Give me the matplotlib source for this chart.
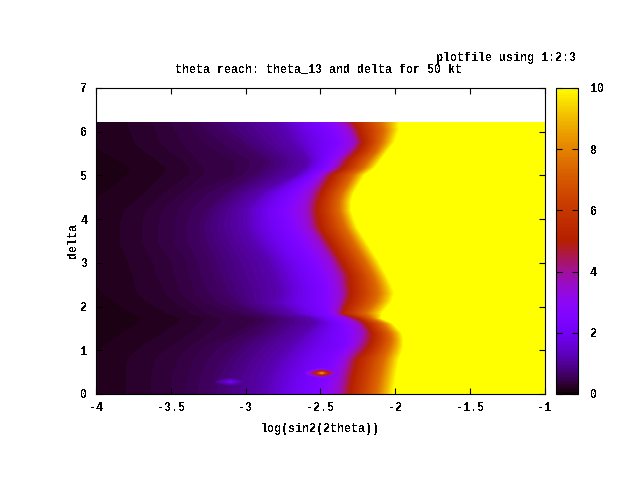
import numpy as np
import matplotlib
matplotlib.use("Agg")
import matplotlib.pyplot as plt
from matplotlib.colors import ListedColormap, Normalize
from matplotlib.cm import ScalarMappable

plt.rcParams.update({
    'font.family': ['Liberation Mono'], 'font.size': 8.4, 'font.weight': 'bold',
    'axes.unicode_minus': False, 'text.antialiased': False, 'axes.linewidth': 0.8,
    'axes.labelweight': 'bold', 'axes.titleweight': 'bold',
})

# values of the colour variable along which the positions below are read
levels_z = [0.156, 0.234, 0.3125, 0.39, 0.47, 0.62, 1.2, 2.5, 3.5, 5.0, 7.5, 10.0]
delta = [0, 0.4, 0.8, 0.95, 1.1, 1.25, 1.4, 1.62, 1.74, 1.85, 2.1, 2.3, 2.5, 2.7, 3.07,
         3.45, 3.82, 4.0, 4.2, 4.4, 4.6, 5.0, 5.17, 5.35, 5.54, 5.75, 6.04, 6.22]
# log(sin2(2theta)) at which each row reaches each value of levels_z
iso_x = [
    [-4.11, -3.80, -3.63, -3.50, -3.40, -3.24, -2.87, -2.52, -2.38, -2.30, -2.12, -2.01],
    [-4.11, -3.80, -3.63, -3.49, -3.38, -3.22, -2.85, -2.47, -2.36, -2.28, -2.10, -1.99],
    [-4.07, -3.79, -3.60, -3.45, -3.34, -3.16, -2.78, -2.41, -2.32, -2.25, -2.07, -1.97],
    [-4.00, -3.74, -3.55, -3.41, -3.30, -3.11, -2.74, -2.37, -2.29, -2.20, -2.05, -1.95],
    [-3.94, -3.69, -3.49, -3.36, -3.26, -3.07, -2.70, -2.33, -2.25, -2.17, -2.03, -1.94],
    [-3.88, -3.62, -3.42, -3.30, -3.16, -3.00, -2.65, -2.33, -2.23, -2.15, -2.02, -1.94],
    [-3.82, -3.55, -3.36, -3.24, -3.06, -2.92, -2.60, -2.33, -2.22, -2.15, -2.03, -1.95],
    [-3.71, -3.45, -3.28, -3.16, -2.94, -2.84, -2.52, -2.35, -2.25, -2.19, -2.08, -2.01],
    [-3.69, -3.43, -3.26, -3.16, -2.92, -2.82, -2.55, -2.40, -2.31, -2.25, -2.15, -2.09],
    [-3.76, -3.53, -3.37, -3.26, -3.10, -2.94, -2.68, -2.45, -2.39, -2.35, -2.19, -2.08],
    [-3.87, -3.65, -3.47, -3.36, -3.27, -3.09, -2.80, -2.47, -2.37, -2.31, -2.13, -2.02],
    [-3.95, -3.72, -3.53, -3.43, -3.33, -3.16, -2.77, -2.47, -2.36, -2.29, -2.11, -2.00],
    [-4.00, -3.74, -3.56, -3.45, -3.35, -3.19, -2.78, -2.48, -2.37, -2.30, -2.12, -2.02],
    [-4.04, -3.75, -3.59, -3.47, -3.37, -3.22, -2.80, -2.50, -2.38, -2.30, -2.14, -2.05],
    [-4.07, -3.79, -3.62, -3.50, -3.39, -3.25, -2.85, -2.56, -2.43, -2.36, -2.20, -2.11],
    [-4.11, -3.84, -3.69, -3.58, -3.47, -3.30, -2.94, -2.64, -2.50, -2.43, -2.27, -2.18],
    [-4.14, -3.84, -3.69, -3.58, -3.47, -3.32, -3.00, -2.70, -2.57, -2.50, -2.33, -2.25],
    [-4.14, -3.83, -3.68, -3.57, -3.46, -3.30, -3.00, -2.72, -2.58, -2.51, -2.35, -2.27],
    [-4.14, -3.81, -3.66, -3.55, -3.45, -3.27, -3.00, -2.74, -2.59, -2.52, -2.37, -2.29],
    [-4.04, -3.74, -3.60, -3.49, -3.40, -3.21, -2.95, -2.71, -2.58, -2.51, -2.37, -2.29],
    [-3.94, -3.67, -3.54, -3.42, -3.34, -3.14, -2.89, -2.67, -2.56, -2.49, -2.35, -2.27],
    [-3.79, -3.55, -3.38, -3.28, -3.08, -2.95, -2.66, -2.54, -2.48, -2.42, -2.28, -2.20],
    [-3.77, -3.53, -3.37, -3.27, -3.06, -2.89, -2.60, -2.47, -2.40, -2.34, -2.21, -2.13],
    [-3.85, -3.59, -3.42, -3.32, -3.07, -2.87, -2.58, -2.44, -2.37, -2.31, -2.17, -2.09],
    [-3.95, -3.67, -3.50, -3.37, -3.17, -2.96, -2.62, -2.41, -2.31, -2.25, -2.12, -2.05],
    [-4.04, -3.74, -3.57, -3.42, -3.27, -3.05, -2.68, -2.37, -2.27, -2.21, -2.09, -2.00],
    [-4.09, -3.77, -3.60, -3.47, -3.34, -3.17, -2.73, -2.42, -2.30, -2.24, -2.07, -1.97],
    [-4.11, -3.79, -3.62, -3.50, -3.38, -3.24, -2.77, -2.47, -2.35, -2.27, -2.09, -1.97],
]
# local bumps near delta = 0.3 and 0.5
spot1_x = [-3.22, -3.16, -3.10, -3.04, -2.98]
spot1_y = [0.16, 0.22, 0.28, 0.34, 0.40]
spot1_z = [[0.7, 0.7, 0.7, 0.7, 0.7],
           [0.7, 0.85, 1.1, 0.85, 0.7],
           [0.8, 1.2, 1.9, 1.2, 0.8],
           [0.7, 0.85, 1.1, 0.85, 0.7],
           [0.7, 0.7, 0.7, 0.7, 0.7]]
spot2_x = [-2.60, -2.56, -2.52, -2.49, -2.46, -2.42, -2.38]
spot2_y = [0.36, 0.42, 0.45, 0.48, 0.51, 0.54, 0.60]
spot2_z = [[2.0, 2.0, 2.2, 2.3, 2.2, 2.0, 2.0],
           [2.0, 2.6, 3.2, 3.8, 3.2, 2.6, 2.0],
           [2.2, 3.4, 4.8, 6.0, 4.8, 3.4, 2.2],
           [2.4, 3.8, 5.8, 8.2, 5.8, 3.8, 2.4],
           [2.2, 3.4, 4.8, 6.0, 4.8, 3.4, 2.2],
           [2.0, 2.6, 3.2, 3.8, 3.2, 2.6, 2.0],
           [2.0, 2.0, 2.2, 2.3, 2.2, 2.0, 2.0]]
xticks = [-4, -3.5, -3, -2.5, -2, -1.5, -1]
xticklabels = ['-4', '-3.5', '-3', '-2.5', '-2', '-1.5', '-1']
yticks = [0, 1, 2, 3, 4, 5, 6, 7]
cticks = [0, 2, 4, 6, 8, 10]

# gnuplot's default pm3d palette (rgbformulae 7,5,15)
n_col = 128
t = (np.arange(n_col) + 0.5) / n_col
cmap = ListedColormap(np.c_[np.sqrt(t), t ** 3, np.clip(np.sin(2 * np.pi * t), 0, 1)])
cmap.set_over((1, 1, 0))
bounds = np.linspace(0, 10, n_col + 1)

d = np.array(delta)
ix = np.array(iso_x)
X = np.c_[np.full(len(d), -5.0), ix, np.full(len(d), -0.9)]
Z = np.tile(np.r_[0.0, levels_z, 10.5], (len(d), 1))
Y = np.tile(d[:, None], (1, X.shape[1]))

fig = plt.figure(figsize=(6.4, 4.8), dpi=100)
W, H = 640.0, 480.0
ax = fig.add_axes([96 / W, (H - 394) / H, 448.5 / W, 306 / H])
norm = Normalize(0, 10)
ax.contourf(X, Y, Z, levels=bounds, cmap=cmap, norm=norm, extend='max', antialiased=False)
for sx, sy, sz, base in [(spot1_x, spot1_y, spot1_z, 0.9), (spot2_x, spot2_y, spot2_z, 2.5)]:
    lv = bounds[bounds >= base]
    lv = lv[lv <= 9.5]
    ax.contourf(sx, sy, sz, levels=lv, cmap=cmap, norm=norm, antialiased=False)

ax.set_xlim(-4, -1)
ax.set_ylim(0, 7)
ax.set_xticks(xticks, xticklabels)
ax.set_yticks(yticks)
ax.tick_params(direction='in', length=4, width=0.8, top=True, right=True, pad=6, color='black')
ax.set_axisbelow(False)
ax.set_xlabel('log(sin2(2theta))', labelpad=6.5)
ax.set_ylabel('delta', labelpad=1)
fig.text(318.5 / W, 1 - 70 / H, 'theta reach: theta_13 and delta for 50 kt', ha='center', va='center')
fig.text(576 / W, 1 - 58 / H, 'plotfile using 1:2:3', ha='right', va='center')

cax = fig.add_axes([556 / W, (H - 394) / H, 21.5 / W, 306 / H])
cb = fig.colorbar(ScalarMappable(norm=norm, cmap=cmap), cax=cax, ticks=cticks)
cb.ax.tick_params(direction='in', length=4, width=0.8, left=True, right=True, pad=9)
cb.outline.set_linewidth(0.8)

fig.savefig('out.png', dpi=100)
